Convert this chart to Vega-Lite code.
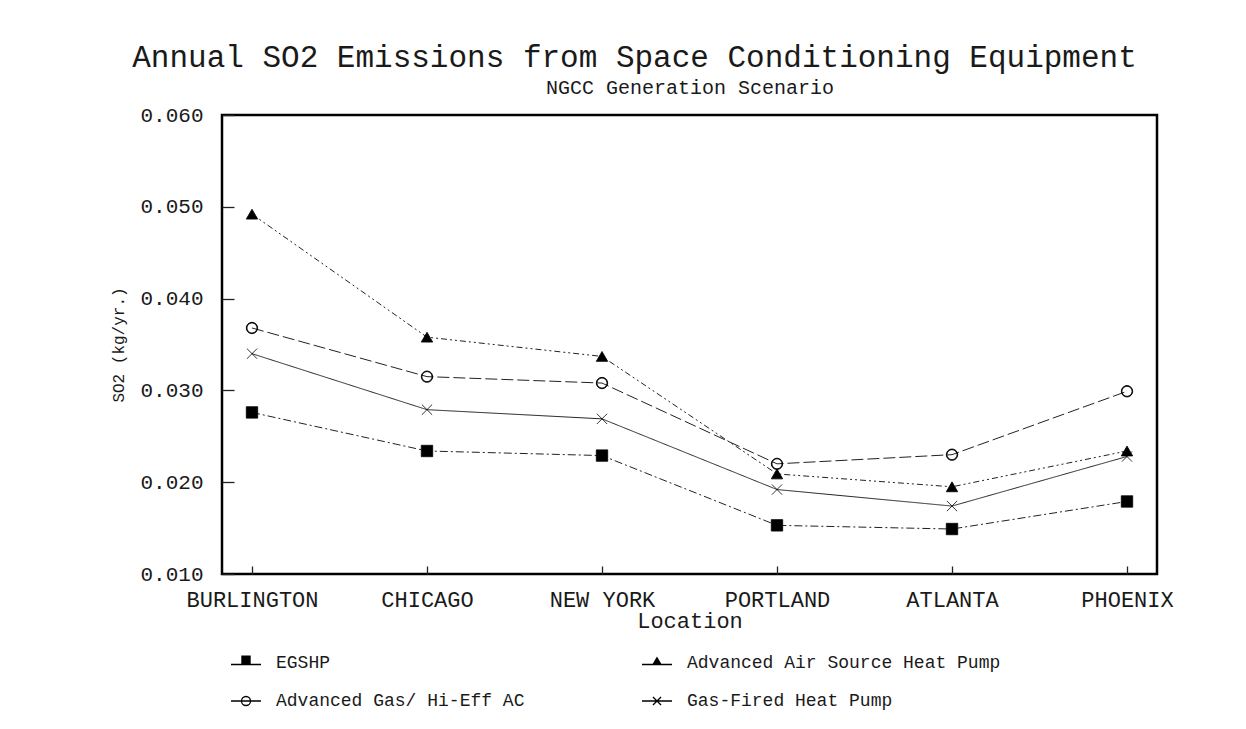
{
  "$schema": "https://vega.github.io/schema/vega-lite/v6.json",
  "width": 935,
  "height": 459,
  "autosize": {"type": "none"},
  "padding": {"left": 222, "top": 115, "right": 89, "bottom": 155},
  "background": "white",
  "config": {
    "font": "Liberation Mono",
    "view": {"stroke": "black", "strokeWidth": 2.5},
    "axis": {
      "labelFont": "Liberation Mono",
      "titleFont": "Liberation Mono",
      "labelColor": "#1a1a1a",
      "titleColor": "#1a1a1a",
      "titleFontWeight": "normal",
      "grid": false,
      "ticks": true,
      "tickColor": "#222222",
      "tickWidth": 1.3
    }
  },
  "title": {
    "text": "Annual SO2 Emissions from Space Conditioning Equipment",
    "font": "Liberation Mono",
    "fontSize": 31,
    "fontWeight": "normal",
    "color": "#1a1a1a",
    "anchor": "middle",
    "frame": "group",
    "dx": -55,
    "offset": 3
  },
  "data": {
    "values": [
      {"location": "BURLINGTON", "series": "EGSHP", "value": 0.0276},
      {"location": "CHICAGO", "series": "EGSHP", "value": 0.0234},
      {"location": "NEW YORK", "series": "EGSHP", "value": 0.0229},
      {"location": "PORTLAND", "series": "EGSHP", "value": 0.0153},
      {"location": "ATLANTA", "series": "EGSHP", "value": 0.0149},
      {"location": "PHOENIX", "series": "EGSHP", "value": 0.0179},
      {"location": "BURLINGTON", "series": "Advanced Air Source Heat Pump", "value": 0.0492},
      {"location": "CHICAGO", "series": "Advanced Air Source Heat Pump", "value": 0.0358},
      {"location": "NEW YORK", "series": "Advanced Air Source Heat Pump", "value": 0.0337},
      {"location": "PORTLAND", "series": "Advanced Air Source Heat Pump", "value": 0.0209},
      {"location": "ATLANTA", "series": "Advanced Air Source Heat Pump", "value": 0.0195},
      {"location": "PHOENIX", "series": "Advanced Air Source Heat Pump", "value": 0.0234},
      {"location": "BURLINGTON", "series": "Advanced Gas/ Hi-Eff AC", "value": 0.0368},
      {"location": "CHICAGO", "series": "Advanced Gas/ Hi-Eff AC", "value": 0.0315},
      {"location": "NEW YORK", "series": "Advanced Gas/ Hi-Eff AC", "value": 0.0308},
      {"location": "PORTLAND", "series": "Advanced Gas/ Hi-Eff AC", "value": 0.0220},
      {"location": "ATLANTA", "series": "Advanced Gas/ Hi-Eff AC", "value": 0.0230},
      {"location": "PHOENIX", "series": "Advanced Gas/ Hi-Eff AC", "value": 0.0299},
      {"location": "BURLINGTON", "series": "Gas-Fired Heat Pump", "value": 0.0340},
      {"location": "CHICAGO", "series": "Gas-Fired Heat Pump", "value": 0.0279},
      {"location": "NEW YORK", "series": "Gas-Fired Heat Pump", "value": 0.0269},
      {"location": "PORTLAND", "series": "Gas-Fired Heat Pump", "value": 0.0192},
      {"location": "ATLANTA", "series": "Gas-Fired Heat Pump", "value": 0.0174},
      {"location": "PHOENIX", "series": "Gas-Fired Heat Pump", "value": 0.0228}
    ]
  },
  "layer": [
    {
      "mark": {"type": "line", "color": "#222222", "strokeWidth": 1},
      "encoding": {
        "x": {
          "field": "location",
          "type": "nominal",
          "scale": {
            "type": "point",
            "padding": 0.1714,
            "domain": ["BURLINGTON", "CHICAGO", "NEW YORK", "PORTLAND", "ATLANTA", "PHOENIX"]
          },
          "axis": {
            "title": "Location",
            "titleFontSize": 22,
            "titlePadding": 0,
            "labelFontSize": 22,
            "labelAngle": 0,
            "labelPadding": 15,
            "offset": -8,
            "tickSize": 8,
            "domain": false,
            "zindex": 1
          }
        },
        "y": {
          "field": "value",
          "type": "quantitative",
          "scale": {"domain": [0.01, 0.06], "zero": false, "nice": false},
          "axis": {
            "title": "SO2 (kg/yr.)",
            "titleFontSize": 16,
            "titlePadding": 13,
            "values": [0.01, 0.02, 0.03, 0.04, 0.05, 0.06],
            "format": ".3f",
            "labelFontSize": 21,
            "labelPadding": 19,
            "offset": -12,
            "tickSize": 12,
            "domain": false,
            "zindex": 1
          }
        },
        "strokeDash": {
          "field": "series",
          "type": "nominal",
          "scale": {
            "domain": ["EGSHP", "Advanced Air Source Heat Pump", "Advanced Gas/ Hi-Eff AC", "Gas-Fired Heat Pump"],
            "range": [[8, 3, 2, 3], [6, 3, 2, 3, 2, 3], [12, 4], [1, 0]]
          },
          "legend": null
        }
      }
    },
    {
      "mark": {"type": "point", "filled": true, "fill": "black", "stroke": "black", "strokeWidth": 0.8, "size": 130, "opacity": 1},
      "encoding": {
        "x": {"field": "location", "type": "nominal", "axis": null},
        "y": {"field": "value", "type": "quantitative"},
        "shape": {
          "field": "series",
          "type": "nominal",
          "scale": {
            "domain": ["EGSHP", "Advanced Air Source Heat Pump", "Advanced Gas/ Hi-Eff AC", "Gas-Fired Heat Pump"],
            "range": [
              "square",
              "triangle-up",
              "M1,0A1,1 0 1,1 -1,0A1,1 0 1,1 1,0Z M0.88,0A0.88,0.88 0 1,0 -0.88,0A0.88,0.88 0 1,0 0.88,0Z",
              "M-0.9,-0.9L0.9,0.9M-0.9,0.9L0.9,-0.9"
            ]
          },
          "legend": null
        }
      }
    },
    {
      "mark": {"type": "point", "filled": false, "stroke": "black", "strokeWidth": 1.2, "size": 0},
      "encoding": {
        "x": {
          "field": "location",
          "type": "nominal",
          "axis": {
            "orient": "top",
            "title": "NGCC Generation Scenario",
            "titleFontSize": 20,
            "titlePadding": 18,
            "labels": false,
            "ticks": false,
            "domain": false
          }
        },
        "y": {"field": "value", "type": "quantitative"},
        "shape": {
          "field": "series",
          "type": "nominal",
          "scale": {
            "domain": ["EGSHP", "Advanced Air Source Heat Pump", "Advanced Gas/ Hi-Eff AC", "Gas-Fired Heat Pump"],
            "range": [
              "M-1,0.1H1M-0.27,-0.45H0.27V0.1H-0.27ZM-0.27,-0.395H0.27M-0.27,-0.34H0.27M-0.27,-0.285H0.27M-0.27,-0.23H0.27M-0.27,-0.175H0.27M-0.27,-0.12H0.27M-0.27,-0.065H0.27M-0.27,-0.01H0.27M-0.27,0.045H0.27",
              "M-1,0.1H1M0,-0.35L0.27,0.1H-0.27ZM-0.03,-0.3H0.03M-0.06,-0.25H0.06M-0.09,-0.2H0.09M-0.12,-0.15H0.12M-0.15,-0.1H0.15M-0.18,-0.05H0.18M-0.21,0H0.21M-0.24,0.05H0.24",
              "M-1,0H1M0.3,0A0.3,0.3 0 1,1 -0.3,0A0.3,0.3 0 1,1 0.3,0Z",
              "M-1,0H1M-0.27,-0.27L0.27,0.27M-0.27,0.27L0.27,-0.27"
            ]
          },
          "legend": {
            "title": null,
            "orient": "none",
            "legendX": 8,
            "legendY": 532,
            "direction": "horizontal",
            "columns": 2,
            "columnPadding": 114,
            "rowPadding": 13,
            "padding": 0,
            "symbolSize": 900,
            "symbolStrokeColor": "black",
            "symbolStrokeWidth": 1.3,
            "symbolOpacity": 1,
            "labelFont": "Liberation Mono",
            "labelFontSize": 18,
            "labelColor": "#1a1a1a",
            "labelOffset": 14,
            "labelLimit": 0
          }
        }
      }
    }
  ],
  "resolve": {
    "scale": {"shape": "independent"},
    "axis": {"x": "independent"},
    "legend": {"shape": "independent"}
  }
}
